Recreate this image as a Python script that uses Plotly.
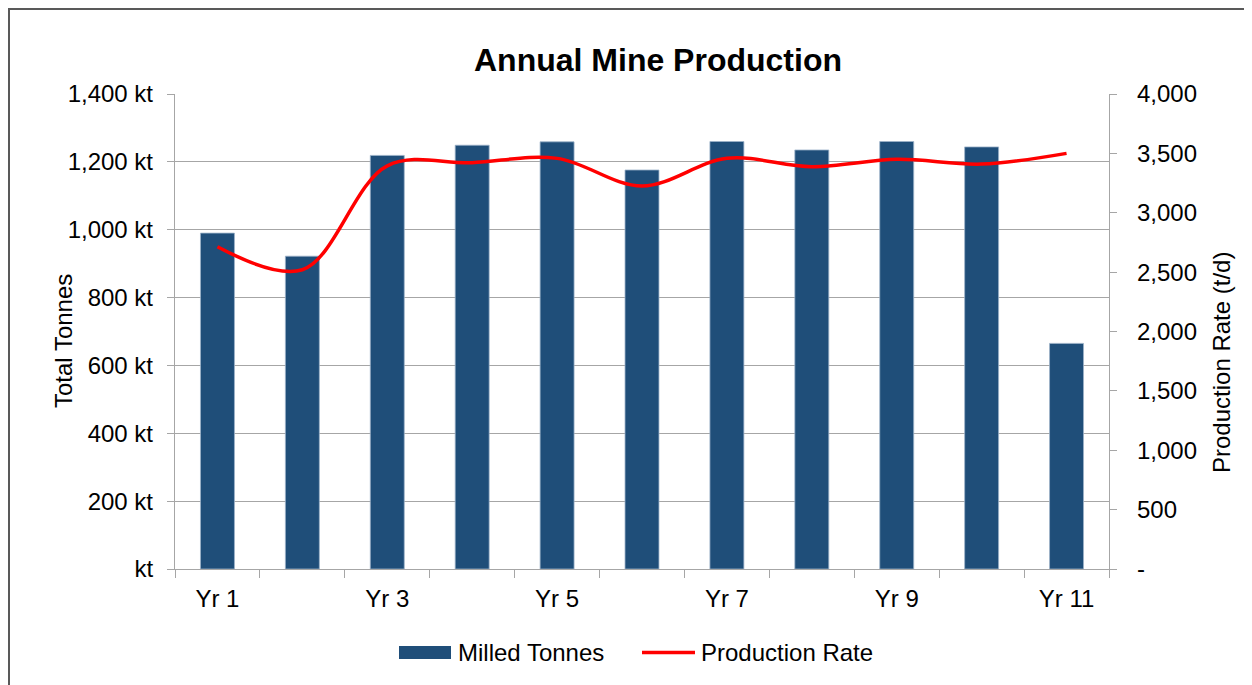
import plotly.graph_objects as go

# ---- data ----
years = ["Yr 1", "Yr 2", "Yr 3", "Yr 4", "Yr 5", "Yr 6", "Yr 7", "Yr 8", "Yr 9", "Yr 10", "Yr 11"]
milled_kt = [990, 922, 1219, 1249, 1259, 1176, 1260, 1235, 1260, 1244, 665]
prod_rate_tpd = [2714, 2520, 3395, 3422, 3458, 3225, 3458, 3388, 3450, 3410, 3500]
left_ticks = [0, 200, 400, 600, 800, 1000, 1200, 1400]
left_ticktext = ["kt", "200 kt", "400 kt", "600 kt", "800 kt", "1,000 kt", "1,200 kt", "1,400 kt"]
right_ticks = [0, 500, 1000, 1500, 2000, 2500, 3000, 3500, 4000]
right_ticktext = ["-", "500", "1,000", "1,500", "2,000", "2,500", "3,000", "3,500", "4,000"]

pos = list(range(1, len(years) + 1))
label_pos = pos[::2]
label_text = years[::2]

FONT = "Liberation Sans, Arial, sans-serif"
BAR = "#1F4E79"
GRID = "#A6A6A6"
FS = 24

OFF = 8  # page body margin
W, H = 1252 - OFF, 685 - OFF
# plot area in screen coordinates
SL, SR, ST, SB = 175, 1109, 94, 569
L, R, T, B = SL - OFF, SR - OFF, ST - OFF, SB - OFF

def px(x):  # screen x -> paper
    return (x - SL) / (SR - SL)

def py(y):  # screen y -> paper
    return (SB - y) / (SB - ST)

fig = go.Figure()
fig.add_trace(go.Bar(
    x=pos, y=milled_kt, name="Milled Tonnes", width=0.4,
    marker=dict(color=BAR, line=dict(color="#9DB3C9", width=0.8)),
    showlegend=False,
))
fig.add_trace(go.Scatter(
    x=pos, y=prod_rate_tpd, name="Production Rate", yaxis="y2",
    mode="lines", line=dict(color="#FF0000", width=3.5, shape="spline", smoothing=1.0),
    showlegend=False,
))

fig.update_layout(
    width=W, height=H,
    margin=dict(l=L, r=W - R, t=T, b=H - B, pad=0),
    paper_bgcolor="white", plot_bgcolor="white",
    font=dict(family=FONT, size=FS, color="black"),
    title=dict(text="<b>Annual Mine Production</b>", x=(658 - OFF) / W, xref="container", xanchor="center",
               y=1 - (60 - OFF) / H, yref="container", yanchor="middle",
               font=dict(family=FONT, size=32, color="black")),
    xaxis=dict(
        range=[0.5, 11.5], tickmode="array", tickvals=label_pos, ticktext=label_text,
        showgrid=False, zeroline=False, showline=True, linecolor=GRID, linewidth=1.3,
        ticks="outside", ticklen=8, tickcolor="rgba(0,0,0,0)", ticklabelstandoff=0,
        minor=dict(tick0=0.5, dtick=1, ticks="outside", ticklen=8, tickcolor=GRID, tickwidth=1.3, showgrid=False),
        tickfont=dict(size=FS),
    ),
    yaxis=dict(
        range=[0, 1400], tickmode="array", tickvals=left_ticks, ticktext=left_ticktext,
        showgrid=True, gridcolor=GRID, gridwidth=1.3, zeroline=False,
        showline=True, linecolor=GRID, linewidth=1.3,
        ticks="outside", ticklen=7, tickcolor=GRID, tickwidth=1.3, ticklabelstandoff=9,
        tickfont=dict(size=FS),
    ),
    yaxis2=dict(
        range=[0, 4000], overlaying="y", side="right", tickmode="array",
        tickvals=right_ticks, ticktext=right_ticktext, showgrid=False, zeroline=False,
        showline=True, linecolor=GRID, linewidth=1.3,
        ticks="outside", ticklen=7, tickcolor=GRID, tickwidth=1.3, ticklabelstandoff=15,
        tickfont=dict(size=FS),
    ),
    shapes=[
        # outer chart border (page starts at screen offset 8)
        dict(type="rect", xref="paper", yref="paper", x0=px(OFF + 1), x1=px(1300), y0=py(720), y1=py(OFF + 1),
             line=dict(color="#595959", width=2), fillcolor="rgba(0,0,0,0)", layer="below"),
        # legend swatches
        dict(type="rect", xref="paper", yref="paper", x0=px(399), x1=px(451), y0=py(659), y1=py(646),
             line=dict(width=0), fillcolor=BAR),
        dict(type="line", xref="paper", yref="paper", x0=px(642), x1=px(695), y0=py(652.5), y1=py(652.5),
             line=dict(color="#FF0000", width=3.5)),
    ],
    annotations=[
        dict(text="Milled Tonnes", xref="paper", yref="paper", x=px(456), y=py(652.5),
             xanchor="left", yanchor="middle", showarrow=False, font=dict(size=FS)),
        dict(text="Production Rate", xref="paper", yref="paper", x=px(699), y=py(652.5),
             xanchor="left", yanchor="middle", showarrow=False, font=dict(size=FS)),
        dict(text="Total Tonnes", xref="paper", yref="paper", x=px(63), y=py(341),
             xanchor="center", yanchor="middle", textangle=-90, showarrow=False, font=dict(size=FS)),
        dict(text="Production Rate (t/d)", xref="paper", yref="paper", x=px(1221), y=py(363),
             xanchor="center", yanchor="middle", textangle=-90, showarrow=False, font=dict(size=FS)),
    ],
)

fig.write_html("out.html")
